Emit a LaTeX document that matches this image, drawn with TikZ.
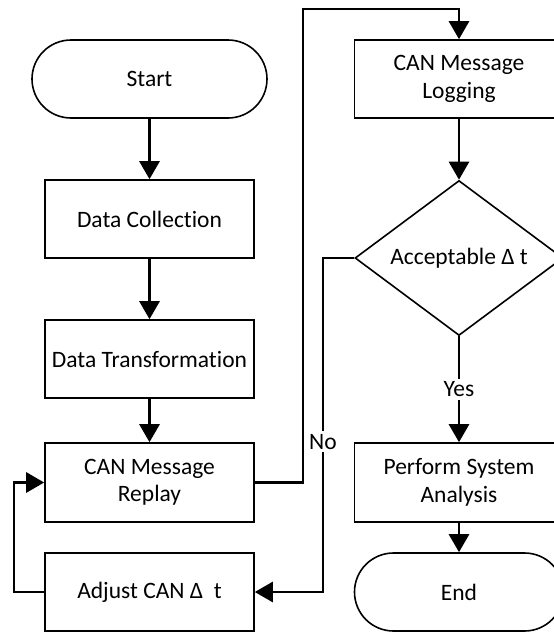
\documentclass[tikz,border=0pt]{standalone}
\usepackage{fontspec}
\setmainfont{Carlito}[Ligatures=NoCommon]
\usetikzlibrary{arrows.meta,shapes.geometric}
\begin{document}
\begin{tikzpicture}[x=1pt,y=-1pt,
  every node/.style={font=\fontsize{23.5}{27.5}\selectfont, align=center, inner sep=0pt},
  procbox/.style={draw, line width=1.6pt, minimum width=209pt, minimum height=78pt},
  termbox/.style={draw, line width=1.6pt, rounded corners=39pt, minimum height=78pt},
  decbox/.style={draw, line width=1.6pt, diamond, aspect=1.34, minimum width=208pt, minimum height=155pt},
  conn/.style={line width=2.8pt, -{Triangle[length=18pt,width=20pt]}},
  lbl/.style={fill=white, inner sep=3pt}
]
\useasboundingbox (0,0) rectangle (554,632);
\node[termbox, minimum width=235pt] (start) at (149.5,79) {Start};
\node[procbox] (dc) at (149.5,219) {Data Collection};
\node[procbox] (dt) at (149.5,359) {Data Transformation};
\node[procbox, minimum height=79pt] (replay) at (149.5,482.5) {CAN Message\\Replay};
\node[procbox] (adjust) at (149.5,592) {Adjust CAN Δ\ \ t};
\node[procbox] (log) at (459,79) {CAN Message\\Logging};
\node[decbox] (dia) at (459,258) {Acceptable Δ t};
\node[procbox, minimum height=79pt] (perform) at (459,482.5) {Perform System\\Analysis};
\node[termbox, minimum width=209pt] (end) at (459,592) {End};
\coordinate (r1) at (303,482.5);
\coordinate (r2) at (303,9);
\coordinate (r3) at (459,9);
\coordinate (n1) at (323,258);
\coordinate (n2) at (323,592);
\coordinate (a1) at (14,592);
\coordinate (a2) at (14,482.5);
\draw[conn] (start) -- (dc);
\draw[conn] (dc) -- (dt);
\draw[conn] (dt) -- (replay);
\draw[conn] (replay.east) -- (r1) -- (r2) -- (r3) -- (log.north);
\draw[conn] (log) -- (dia);
\draw[conn] (dia.south) -- node[lbl, pos=0.5] (yes) {Yes} (perform.north);
\draw[conn] (dia.west) -- (n1) -- node[lbl, pos=0.55] (no) {No} (n2) -- (adjust.east);
\draw[conn] (adjust.west) -- (a1) -- (a2) -- (replay.west);
\draw[conn] (perform) -- (end);
\end{tikzpicture}
\end{document}
